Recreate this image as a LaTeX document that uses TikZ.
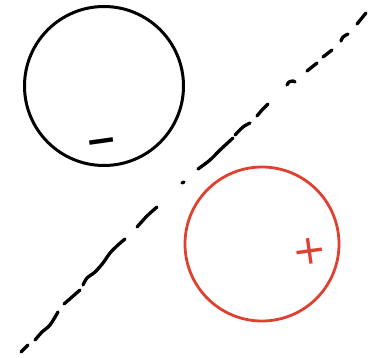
\documentclass[tikz,border=0pt]{standalone}
\usepackage{fontspec}
\newfontfamily\signfont{DejaVu Sans}
\definecolor{redpen}{RGB}{224,64,48}

\begin{document}
\begin{tikzpicture}[
  x=1pt, y=-1pt,
  pen/.style={line width=3.3pt, line cap=round, line join=round},
  charge/.style={circle, draw, line width=3pt, inner sep=0pt},
  sign/.style={font=\signfont\fontsize{41}{41}\selectfont, inner sep=0pt, rotate=8},
]
\useasboundingbox (0,0) rectangle (381,357);

%% -- Two charged regions --------------------------------------------------
\node[charge, minimum size=159pt] (neg) at (104,86) {};
\node[charge, draw=redpen, line width=2.8pt, minimum size=154pt] (pos) at (262,244) {};

%% -- Signs ------------------------------------------------------------------
\node[sign, font=\signfont\bfseries\fontsize{38}{38}\selectfont] (negsign) at (102,146) {−};
\node[sign, text=redpen] (possign) at (310,251) {+};

%% -- Dashed boundary, piece by piece ---------------------------------------
\draw[pen] plot[smooth] coordinates {(21,352) (28,345)};
\draw[pen] plot[smooth] coordinates {(35,340) (42,332) (50,325) (58,312)};
\draw[pen] plot[smooth] coordinates {(64,304) (72,297) (80,290)};
\draw[pen] plot[smooth] coordinates {(83,285) (87,278) (95,272) (103,263) (110,253) (118,245) (125,239)};
\draw[pen] plot[smooth] coordinates {(137,227) (147,216) (157,207)};
\draw[pen] plot[smooth] coordinates {(182,183) (184,182)};
\draw[pen] plot[smooth] coordinates {(198,169) (210,160) (220,150) (233,138)};
\draw[pen] plot[smooth] coordinates {(235,135) (243,127) (250,123)};
\draw[pen] plot[smooth] coordinates {(257,116) (262,110) (268,104)};
\draw[pen] plot[smooth] coordinates {(287,85) (289,82) (293,81) (295,82)};
\draw[pen] plot[smooth] coordinates {(307,71) (317,63)};
\draw[pen] plot[smooth] coordinates {(323,57) (332,50)};
\draw[pen] plot[smooth] coordinates {(341,41) (343,37) (348,34)};
\draw[pen] plot[smooth] coordinates {(357,24) (366,13)};

\end{tikzpicture}
\end{document}
